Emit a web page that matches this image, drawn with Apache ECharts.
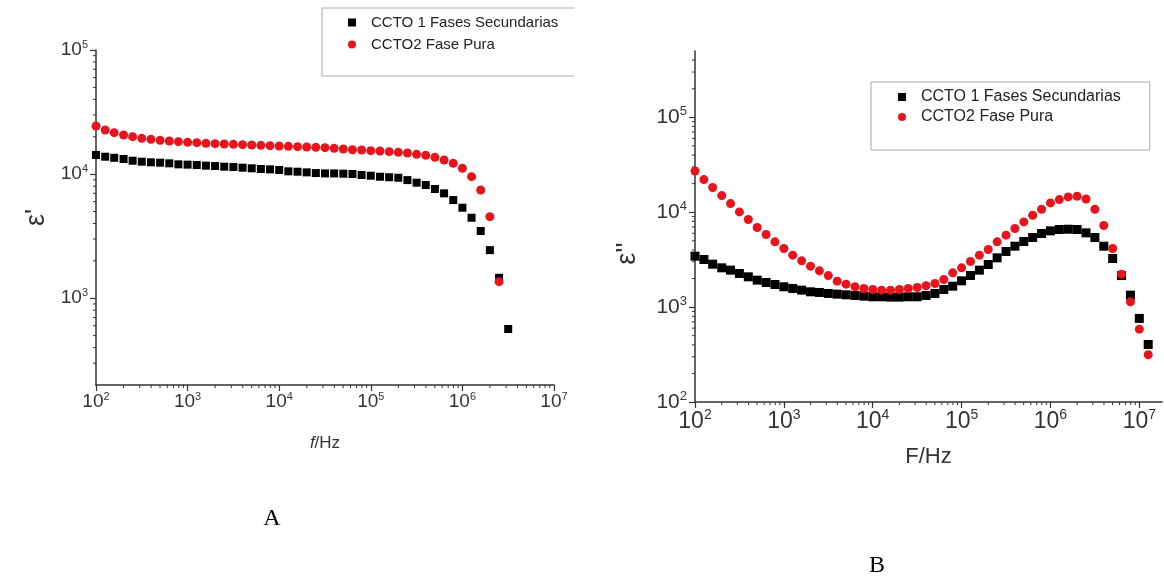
<!DOCTYPE html>
<html>
<head>
<meta charset="utf-8">
<script src="https://cdn.jsdelivr.net/npm/echarts@6/dist/echarts.min.js"></script>
<style>
  html, body { margin: 0; padding: 0; background: #fff; }
  #main { width: 1164px; height: 578px; }
</style>
</head>
<body>
<div id="main"></div>
<script>
// frequencies (Hz), 10 points per decade
var freq = [
  100, 126, 158, 200, 251, 316, 398, 501, 631, 794,
  1000, 1259, 1585, 1995, 2512, 3162, 3981, 5012, 6310, 7943,
  10000, 12589, 15849, 19953, 25119, 31623, 39811, 50119, 63096, 79433,
  100000, 125893, 158489, 199526, 251189, 316228, 398107, 501187, 630957, 794328,
  1000000, 1258925, 1584893, 1995262, 2511886, 3162278, 3981072, 5011872, 6309573, 7943282,
  10000000, 12589254
];

// A: eps' (real part)
var epsRealSec = [
  14260, 13810, 13540, 13240, 12820, 12590, 12450, 12370, 12220, 11990,
  11920, 11840, 11700, 11620, 11480, 11400, 11270, 11140, 11000, 10920,
  10790, 10530, 10460, 10330, 10200, 10130, 10130, 10080, 10020, 9840,
  9710, 9530, 9440, 9350, 8950, 8530, 8170, 7590, 7000, 6180,
  5360, 4450, 3480, 2440, 1460, 565
];
var epsRealPure = [
  24420, 22660, 21580, 20660, 20030, 19420, 19060, 18720, 18480, 18260,
  18030, 17920, 17700, 17590, 17480, 17370, 17270, 17160, 17050, 16950,
  16840, 16740, 16640, 16540, 16430, 16330, 16130, 15930, 15730, 15640,
  15450, 15350, 15160, 14980, 14790, 14430, 14170, 13650, 12990, 12210,
  11130, 9540, 7450, 4540, 1360
];

// B: eps'' (imaginary part)
var epsImagSec = [
  3442, 3176, 2835, 2594, 2452, 2262, 2086, 1924, 1818, 1732,
  1637, 1572, 1510, 1450, 1427, 1393, 1370, 1348, 1327, 1305,
  1285, 1285, 1274, 1274, 1285, 1285, 1327, 1393, 1535, 1663,
  1893, 2154, 2452, 2812, 3306, 3855, 4385, 4911, 5412, 5963,
  6362, 6571, 6622, 6571, 6060, 5412, 4385, 3253, 2150, 1337,
  760, 404
];
var epsImagPure = [
  27200, 22080, 18200, 14970, 12330, 10080, 8370, 6895, 5820, 4870,
  4145, 3525, 3074, 2702, 2413, 2150, 1878, 1746, 1637, 1572,
  1535, 1510, 1510, 1535, 1572, 1610, 1677, 1775, 1956, 2298,
  2595, 3025, 3525, 4047, 4870, 5730, 6730, 7910, 9300, 10760,
  12530, 13590, 14500, 14730, 13800, 10760, 7240, 4145, 2224, 1137,
  586, 315
];

var seriesNames = ['CCTO 1 Fases Secundarias', 'CCTO2 Fase Pura'];

// minor log ticks: 2..9 within each decade
var minorSteps = [2, 3, 4, 5, 6, 7, 8, 9];
var decades = [100, 1e3, 1e4, 1e5, 1e6, 1e7];

var RED = '#e8141b';
var AXIS = '#333';

function pairs(vals) {
  return vals.map(function (v, i) { return [freq[i], v]; });
}

function minorValues(min, max) {
  var out = [];
  decades.forEach(function (d) {
    minorSteps.forEach(function (s) {
      var v = d * s;
      if (v > min && v < max) out.push(v);
    });
  });
  return out;
}

// 10^n labels, exponent raised as a superscript
function powLabel(v) {
  return '{b|10}{s|' + Math.round(Math.log10(v)) + '}';
}
function powRich(big, small) {
  return {
    b: { fontSize: big, color: AXIS },
    s: { fontSize: small, color: AXIS, padding: [0, 0, Math.round(big * 0.55), 0] }
  };
}

function logAxis(grid, min, max, big, small, margin) {
  return {
    type: 'log',
    logBase: 10,
    gridIndex: grid,
    min: min,
    max: max,
    axisLine: { show: true, lineStyle: { color: AXIS, width: 1.5 } },
    axisTick: { show: true, length: 6, lineStyle: { color: AXIS, width: 1.2 } },
    splitLine: { show: false },
    axisLabel: {
      formatter: powLabel,
      rich: powRich(big, small),
      margin: margin
    }
  };
}

// short tick marks drawn at axis positions through the axis scales
function minorTicks(grid, dir, vals, fixed, len) {
  return {
    type: 'custom',
    xAxisIndex: grid,
    yAxisIndex: grid,
    silent: true,
    clip: false,
    z: 1,
    data: vals.map(function (v) { return dir === 'x' ? [v, fixed] : [fixed, v]; }),
    renderItem: function (params, api) {
      var p = api.coord([api.value(0), api.value(1)]);
      return {
        type: 'line',
        shape: {
          x1: p[0], y1: p[1],
          x2: dir === 'x' ? p[0] : p[0] - len,
          y2: dir === 'x' ? p[1] + len : p[1]
        },
        style: { stroke: AXIS, lineWidth: 1 }
      };
    }
  };
}

var xA = logAxis(0, 100, 1e7, 19, 11, 6);
xA.name = '{i|f}/Hz';
xA.nameLocation = 'middle';
xA.nameGap = 50;
xA.nameTextStyle = { fontSize: 17, color: AXIS, rich: { i: { fontSize: 17, fontStyle: 'italic', color: AXIS } } };

var yA = logAxis(0, 200, 1e5, 19, 11, 8);
yA.axisLabel.showMinLabel = false;
yA.name = "ε'";
yA.nameLocation = 'middle';
yA.nameRotate = 90;
yA.nameGap = 46;
yA.nameTextStyle = { fontSize: 27, color: AXIS };

var xB = logAxis(1, 100, 1.8e7, 23, 14, 6);
xB.axisLabel.showMaxLabel = false;
xB.name = 'F/Hz';
xB.nameLocation = 'middle';
xB.nameGap = 44;
xB.nameTextStyle = { fontSize: 22, color: AXIS };

var yB = logAxis(1, 100, 5e5, 21, 13, 8);
yB.axisLabel.showMaxLabel = false;
yB.name = "ε''";
yB.nameLocation = 'middle';
yB.nameRotate = 90;
yB.nameGap = 54;
yB.nameTextStyle = { fontSize: 27, color: AXIS, padding: [0, 54, 0, 0] };

function legendFor(left, top, padding, gap, size) {
  return {
    orient: 'vertical',
    left: left,
    top: top,
    itemWidth: 8,
    itemHeight: 8,
    itemGap: gap,
    padding: padding,
    borderColor: '#aaa',
    borderWidth: 1,
    selectedMode: false,
    textStyle: { fontSize: size, lineHeight: size, color: '#222', padding: [0, 0, 0, 10] },
    data: [
      { name: seriesNames[0], icon: 'rect', itemStyle: { color: '#000', opacity: 1 } },
      { name: seriesNames[1], icon: 'circle', itemStyle: { color: RED, opacity: 1 } }
    ]
  };
}

var chart = echarts.init(document.getElementById('main'));
chart.setOption({
  animation: false,
  backgroundColor: '#fff',
  textStyle: { fontFamily: 'Liberation Sans' },
  grid: [
    { left: 96, right: 610, top: 50, bottom: 193 },
    { left: 695, right: 2, top: 51, bottom: 176 }
  ],
  xAxis: [xA, xB],
  yAxis: [yA, yB],
  legend: [
    legendFor(322, 8, [7, 60, 24, 26], 7, 15),
    legendFor(871, 82, [7, 29, 25, 27], 4, 16)
  ],
  series: [
    minorTicks(0, 'x', minorValues(100, 1e7), 200, 3),
    minorTicks(0, 'y', minorValues(200, 1e5), 100, 3),
    minorTicks(1, 'x', minorValues(100, 1.8e7), 100, 3),
    minorTicks(1, 'y', minorValues(100, 5e5), 100, 3),
    { name: seriesNames[0], type: 'scatter', xAxisIndex: 0, yAxisIndex: 0, symbol: 'rect', symbolSize: 8,
      itemStyle: { color: '#000', opacity: 1 }, data: pairs(epsRealSec) },
    { name: seriesNames[1], type: 'scatter', xAxisIndex: 0, yAxisIndex: 0, symbol: 'circle', symbolSize: 9,
      itemStyle: { color: RED, opacity: 1 }, data: pairs(epsRealPure) },
    { name: seriesNames[0], type: 'scatter', xAxisIndex: 1, yAxisIndex: 1, symbol: 'rect', symbolSize: 9,
      itemStyle: { color: '#000', opacity: 1 }, data: pairs(epsImagSec) },
    { name: seriesNames[1], type: 'scatter', xAxisIndex: 1, yAxisIndex: 1, symbol: 'circle', symbolSize: 9,
      itemStyle: { color: RED, opacity: 1 }, data: pairs(epsImagPure) }
  ],
  graphic: {
    z: 100,
    elements: [
      // panel A was cropped at its right edge
      { type: 'rect', left: 574, top: 0, z: 100, shape: { width: 56, height: 80 }, style: { fill: '#fff' } },
      { type: 'text', x: 272, y: 519, z: 100,
        style: { text: 'A', fontFamily: 'Liberation Serif', fontSize: 24, fill: '#000', align: 'center', verticalAlign: 'middle' } },
      { type: 'text', x: 877, y: 566, z: 100,
        style: { text: 'B', fontFamily: 'Liberation Serif', fontSize: 24, fill: '#000', align: 'center', verticalAlign: 'middle' } }
    ]
  }
});
</script>
</body>
</html>
